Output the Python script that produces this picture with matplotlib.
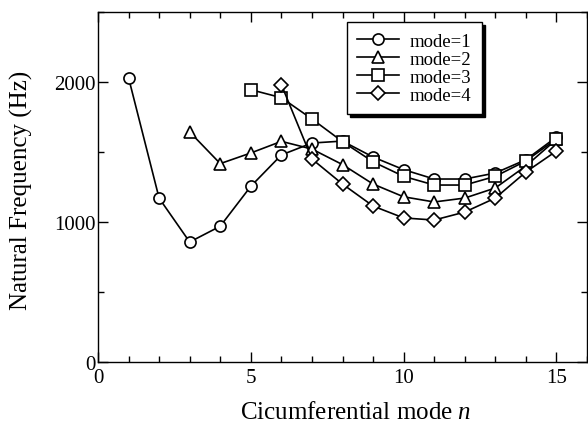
import matplotlib
matplotlib.use("Agg")
import matplotlib.pyplot as plt
from matplotlib.ticker import MultipleLocator

plt.rcParams['font.family'] = ['Liberation Serif', 'DejaVu Serif']
plt.rcParams['mathtext.fontset'] = 'custom'
plt.rcParams['mathtext.rm'] = 'Liberation Serif'
plt.rcParams['mathtext.it'] = 'Liberation Serif:italic'

n1 = [1, 2, 3, 4, 5, 6, 7, 8, 9, 10, 11, 12, 13, 14, 15]
f1 = [2030, 1170, 857, 970, 1255, 1479, 1564, 1578, 1464, 1374, 1307, 1307, 1350, 1445, 1607]
n2 = [3, 4, 5, 6, 7, 8, 9, 10, 11, 12, 13, 14, 15]
f2 = [1643, 1417, 1493, 1576, 1521, 1410, 1271, 1180, 1143, 1171, 1243, 1400, 1590]
n3 = [5, 6, 7, 8, 9, 10, 11, 12, 13, 14, 15]
f3 = [1945, 1888, 1736, 1574, 1430, 1326, 1264, 1264, 1326, 1436, 1593]
n4 = [6, 7, 8, 9, 10, 11, 12, 13, 14, 15]
f4 = [1981, 1450, 1271, 1114, 1029, 1014, 1071, 1171, 1357, 1507]
labels = ['mode=1', 'mode=2', 'mode=3', 'mode=4']
markers = ['o', '^', 's', 'D']
msizes = [8, 8.5, 8, 7.5]

fig = plt.figure(figsize=(5.88, 4.27), dpi=100)
ax = fig.add_axes([98/588, 1-363/427, (587-98)/588, (363-13)/427])

for n, f, lab, m, ms in zip([n1, n2, n3, n4], [f1, f2, f3, f4], labels, markers, msizes):
    ax.plot(n, f, color='black', lw=1.2, marker=m, ms=ms, mfc='white',
            mec='black', mew=1.2, label=lab)

ax.set_xlim(0, 16)
ax.set_ylim(0, 2500)
ax.xaxis.set_major_locator(MultipleLocator(5))
ax.xaxis.set_minor_locator(MultipleLocator(1))
ax.yaxis.set_major_locator(MultipleLocator(1000))
ax.yaxis.set_minor_locator(MultipleLocator(500))
ax.tick_params(which='both', direction='in', top=True, right=True, labelsize=15, width=1)
ax.tick_params(which='major', length=7, pad=2)
ax.tick_params(axis='x', which='major', pad=4)
ax.tick_params(which='minor', length=4)
for s in ax.spines.values():
    s.set_linewidth(1)

ax.set_xlabel('Cicumferential mode $\\mathit{n}$', fontsize=18)
ax.xaxis.set_label_coords(0.528, -0.112)
ax.set_ylabel('Natural Frequency (Hz)', fontsize=18)
ax.yaxis.set_label_coords(-0.133, 0.494)

leg = ax.legend(loc='upper right', bbox_to_anchor=(0.785, 0.971), borderaxespad=0,
                fontsize=13.5, labelspacing=0.05, handlelength=2.2, handletextpad=0.6,
                borderpad=0.55, fancybox=False, edgecolor='black', framealpha=1,
                shadow={'color': 'black', 'alpha': 1})
leg.get_frame().set_linewidth(1)

fig.savefig('out.png', dpi=100)
